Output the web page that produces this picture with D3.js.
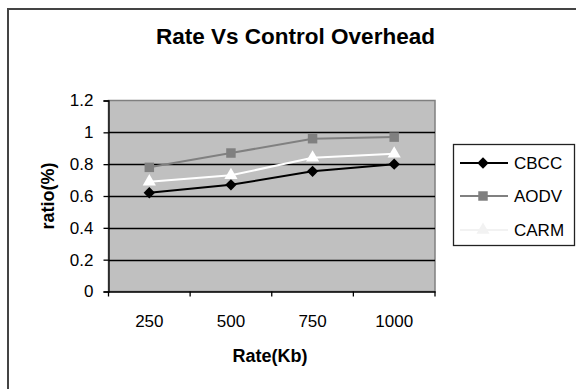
<!DOCTYPE html>
<html>
<head>
<meta charset="utf-8">
<script src="https://cdn.jsdelivr.net/npm/d3@7/dist/d3.min.js"></script>
<style>
  html, body { margin: 0; padding: 0; background: #fff; }
  svg { display: block; font-family: "Liberation Sans", Arial, sans-serif; }
</style>
</head>
<body>
<svg id="chart" width="576" height="389"></svg>
<script>
const categories = ["250", "500", "750", "1000"];
const yTicks = [0, 0.2, 0.4, 0.6, 0.8, 1, 1.2];
const seriesNames = ["CBCC", "AODV", "CARM"];
const cbcc = [0.62, 0.67, 0.755, 0.80];
const aodv = [0.78, 0.87, 0.96, 0.97];
const carm = [0.69, 0.73, 0.84, 0.865];

const svg = d3.select("#chart");
const FONT = "Liberation Sans, Arial, sans-serif";

// outer chart border
svg.append("rect").attr("x", 8).attr("y", 9).attr("width", 600).attr("height", 400)
  .attr("fill", "#fff").attr("stroke", "#444").attr("stroke-width", 2);

const plot = { left: 108.5, right: 435, top: 100.5, bottom: 291.5 };
const x = d3.scaleBand().domain(categories).range([plot.left, plot.right]).padding(0);
const y = d3.scaleLinear().domain([0, 1.2]).range([plot.bottom, plot.top]);

// plot background
svg.append("rect").attr("x", plot.left).attr("y", plot.top)
  .attr("width", plot.right - plot.left).attr("height", plot.bottom - plot.top)
  .attr("fill", "#c0c0c0").attr("stroke", "#808080").attr("stroke-width", 1.5);

// gridlines
svg.append("g").selectAll("line").data(yTicks.filter(d => d > 0 && d < 1.2)).join("line")
  .attr("x1", plot.left).attr("x2", plot.right)
  .attr("y1", d => Math.round(y(d)) + 0.5).attr("y2", d => Math.round(y(d)) + 0.5)
  .attr("stroke", "#000").attr("stroke-width", 1.3);

// y axis
const fmt = d => d === 0 ? "0" : String(+d.toFixed(1));
const yAxis = svg.append("g").attr("transform", `translate(${plot.left},0)`)
  .call(d3.axisLeft(y).tickValues(yTicks).tickFormat(fmt).tickSize(5).tickPadding(10));
yAxis.select(".domain").attr("stroke", "#000").attr("stroke-width", 1.3);
yAxis.selectAll(".tick line").attr("stroke", "#000").attr("stroke-width", 1.3);
yAxis.selectAll("text").attr("font-size", 17).attr("fill", "#000").attr("font-family", FONT);

// x axis
const xAxis = svg.append("g").attr("transform", `translate(0,${plot.bottom})`)
  .call(d3.axisBottom(x).tickSize(0).tickPadding(23));
xAxis.select(".domain").attr("stroke", "#000").attr("stroke-width", 1.3);
xAxis.selectAll("text").attr("font-size", 17).attr("fill", "#000").attr("font-family", FONT);
// tick marks at category boundaries
const bounds = categories.map(c => x(c)).concat([x(categories[categories.length - 1]) + x.bandwidth()]);
xAxis.append("g").selectAll("line").data(bounds).join("line")
  .attr("x1", d => d).attr("x2", d => d).attr("y1", 0).attr("y2", 5)
  .attr("stroke", "#000").attr("stroke-width", 1.3);

// axis titles
svg.append("text").attr("x", 270).attr("y", 362).attr("text-anchor", "middle")
  .attr("font-size", 18).attr("font-weight", "bold").text("Rate(Kb)");
svg.append("text").attr("transform", "translate(54,196) rotate(-90)").attr("text-anchor", "middle")
  .attr("font-size", 18).attr("font-weight", "bold").text("ratio(%)");

// title
svg.append("text").attr("x", 295.5).attr("y", 44).attr("text-anchor", "middle")
  .attr("font-size", 22.5).attr("font-weight", "bold").text("Rate Vs Control Overhead");

// custom symbols
const diamond = { draw(ctx, size) { const r = Math.sqrt(size) / 2; ctx.moveTo(0, -r); ctx.lineTo(r, 0); ctx.lineTo(0, r); ctx.lineTo(-r, 0); ctx.closePath(); } };

// series
const series = [
  { name: seriesNames[0], values: cbcc, color: "#000", symbol: diamond, size: 130, fill: "#000" },
  { name: seriesNames[1], values: aodv, color: "#808080", symbol: d3.symbolSquare, size: 90, fill: "#808080" },
  { name: seriesNames[2], values: carm, color: "#fff", symbol: d3.symbolTriangle, size: 75, fill: "#fff" }
];
const cx = c => x(c) + x.bandwidth() / 2;
const line = d3.line().x(d => cx(d.c)).y(d => y(d.v));

[series[1], series[2], series[0]].forEach(s => {
  const pts = categories.map((c, i) => ({ c, v: s.values[i] }));
  svg.append("path").datum(pts).attr("d", line).attr("fill", "none")
    .attr("stroke", s.color).attr("stroke-width", 2);
  svg.append("g").selectAll("path").data(pts).join("path")
    .attr("transform", d => `translate(${cx(d.c)},${y(d.v)})`)
    .attr("d", d3.symbol().type(s.symbol).size(s.size))
    .attr("fill", s.fill);
});

// legend
const lg = svg.append("g");
lg.append("rect").attr("x", 453.5).attr("y", 144.5).attr("width", 121).attr("height", 101)
  .attr("fill", "#fff").attr("stroke", "#222").attr("stroke-width", 1.3);
const legY = [163, 196, 230];
series.forEach((s, i) => {
  const stroke = s.name === "CARM" ? "#f2f2f2" : s.color;
  lg.append("line").attr("x1", 460).attr("x2", 508).attr("y1", legY[i]).attr("y2", legY[i])
    .attr("stroke", stroke).attr("stroke-width", 2);
  lg.append("path").attr("transform", `translate(483,${legY[i]})`)
    .attr("d", d3.symbol().type(s.symbol).size(s.size)).attr("fill", s.name === "CARM" ? "#f2f2f2" : s.fill);
  lg.append("text").attr("x", 514).attr("y", legY[i] + 6).attr("font-size", 17)
    .attr("fill", "#000").attr("font-family", FONT).text(s.name);
});
</script>
</body>
</html>
